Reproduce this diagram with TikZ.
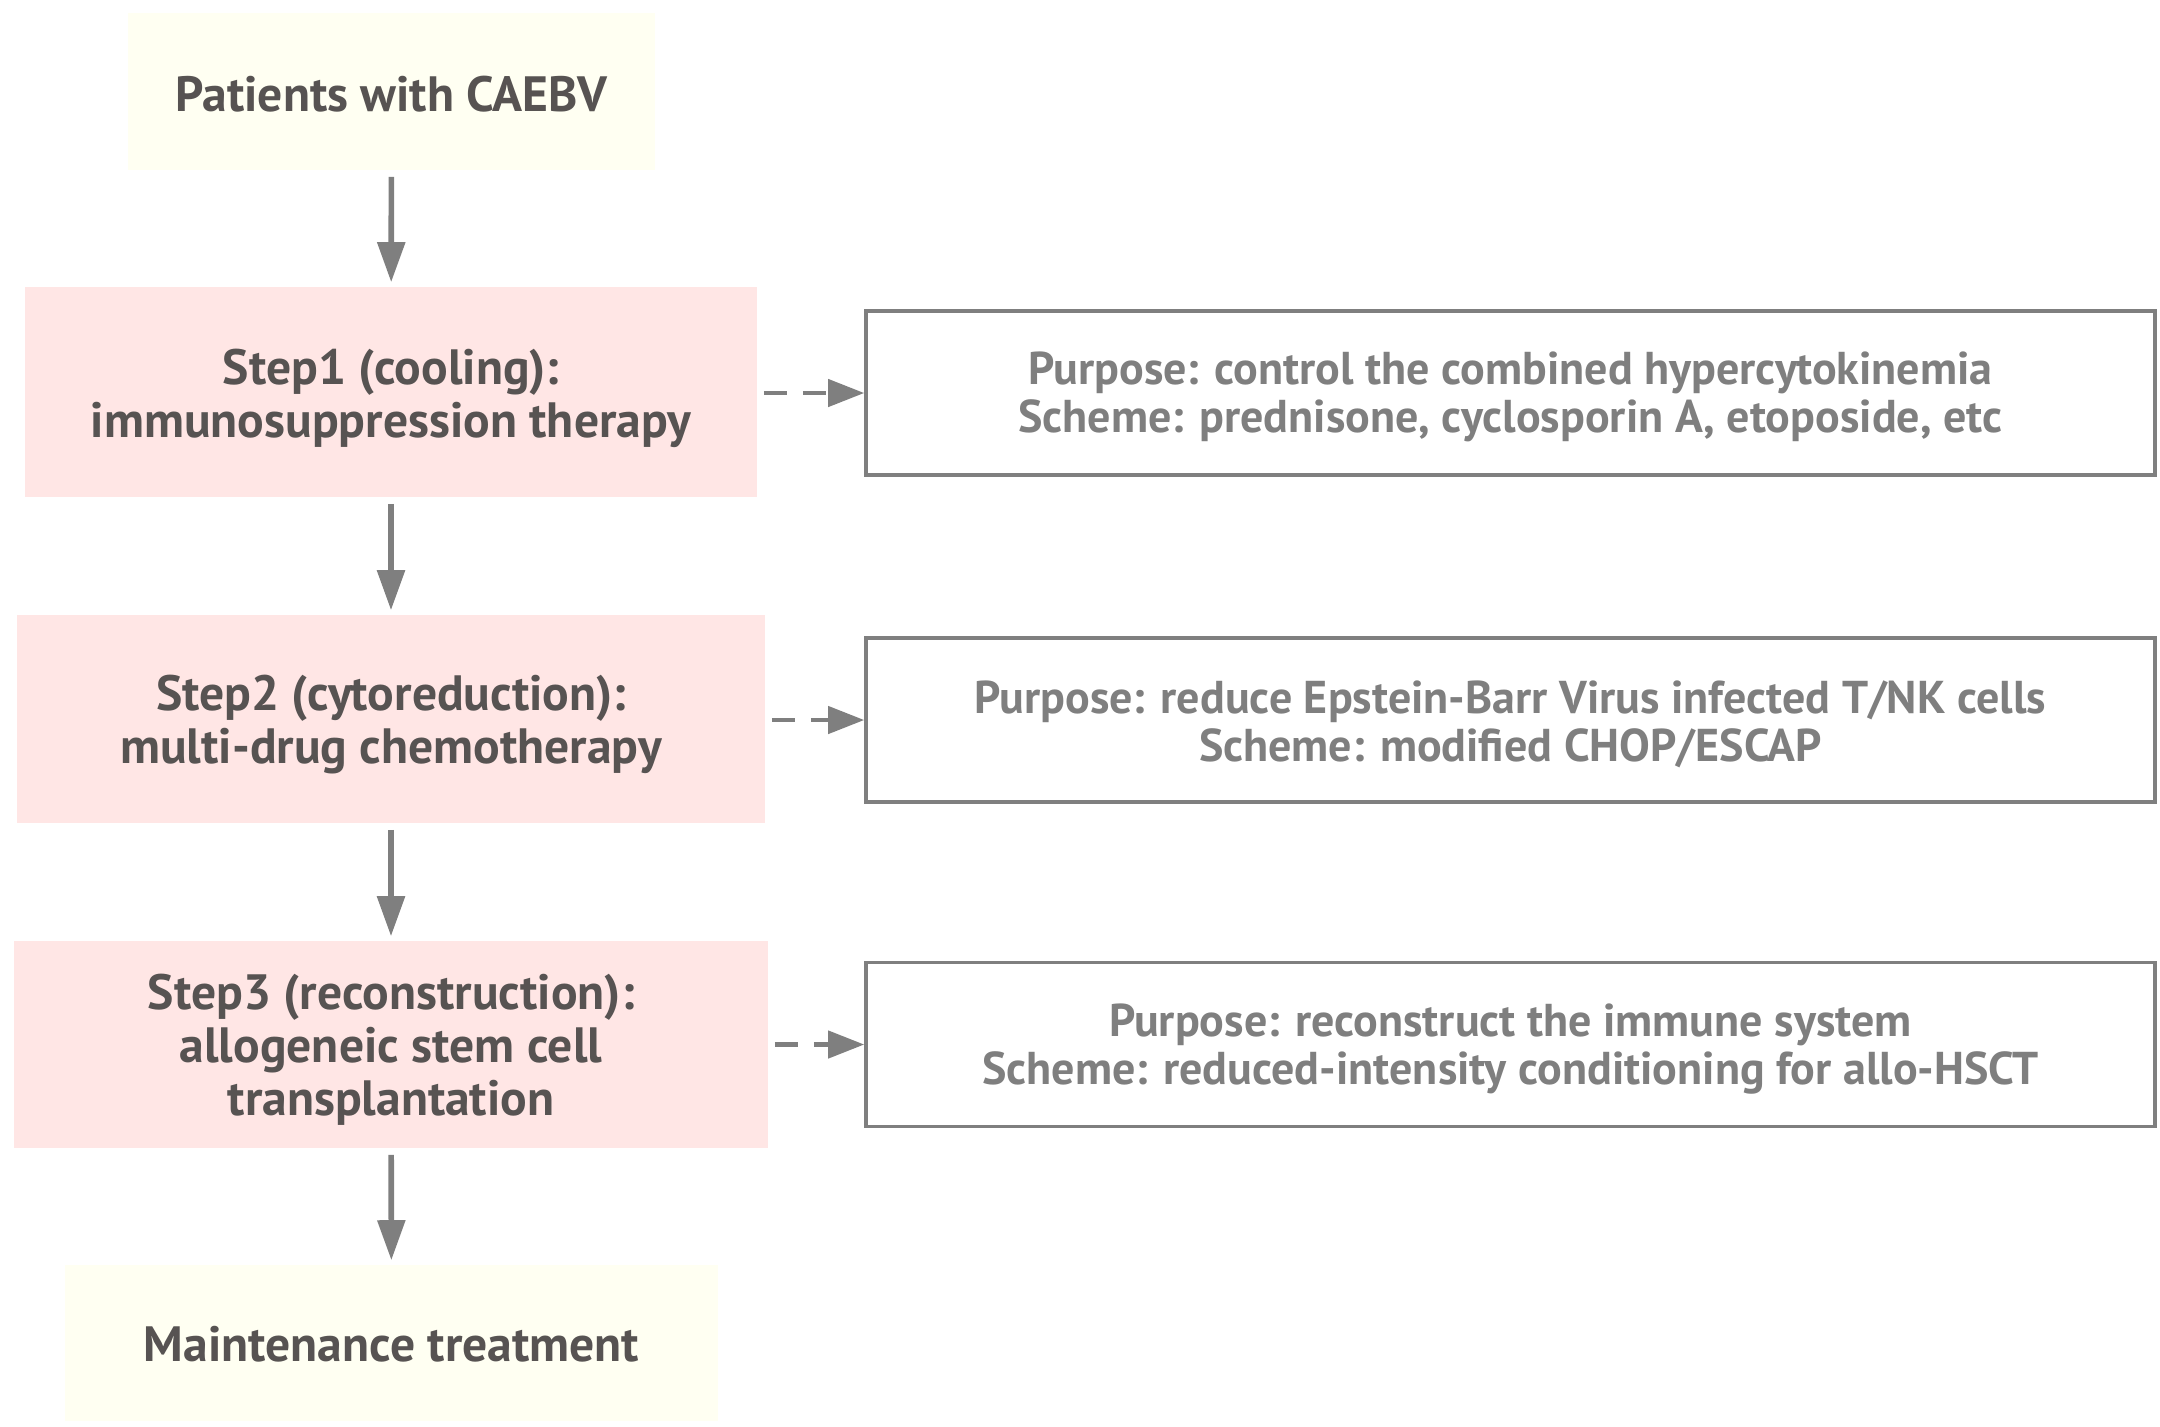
\documentclass[tikz,border=0pt]{standalone}
\usepackage{fontspec}
\setmainfont{PT Sans}
\usetikzlibrary{arrows.meta}
\definecolor{yfill}{HTML}{FFFFF2}
\definecolor{pfill}{HTML}{FFE6E5}
\definecolor{lgray}{HTML}{7F7F7F}
\definecolor{dtext}{HTML}{575352}
\tikzset{
  ltext/.style={align=center, text=dtext, inner sep=0pt,
    font=\bfseries\fontsize{12.4}{13.25}\selectfont},
  rtext/.style={align=center, text=lgray, inner sep=0pt, yshift=-1pt,
    font=\bfseries\fontsize{11.5}{12}\selectfont},
  startbox/.style={fill=yfill, draw=none, inner sep=0pt},
  stepbox/.style={fill=pfill, draw=none, inner sep=0pt},
  infobox/.style={draw=lgray, line width=0.9pt, fill=white, inner sep=0pt,
    minimum width=322.25pt, minimum height=41pt},
  flow/.style={draw=lgray, line width=1.4pt,
    -{Triangle[length=10pt,width=6.75pt]}, shorten <=1.5pt, shorten >=1pt},
  side/.style={draw=lgray, line width=1.1pt, dash pattern=on 5.75pt off 4pt,
    -{Triangle[length=9pt,width=6.75pt]}, shorten <=1.5pt}
}
\begin{document}
\begin{tikzpicture}[x=0.25pt, y=-0.25pt]
\useasboundingbox (0,0) rectangle (2160,1426);
\node[startbox, minimum width=131.75pt, minimum height=39.25pt,
  label={[ltext, yshift=-0.6pt]center:Patients with CAEBV}] (top) at (391.5,91.5) {};
\node[stepbox, minimum width=183pt, minimum height=52.5pt,
  label={[ltext, yshift=-1.5pt]center:Step1 (cooling):\\immunosuppression therapy}] (s1) at (391,392) {};
\node[stepbox, minimum width=187pt, minimum height=52pt,
  label={[ltext, yshift=-1.4pt]center:Step2 (cytoreduction):\\multi-drug chemotherapy}] (s2) at (391,719) {};
\node[stepbox, minimum width=188.5pt, minimum height=51.75pt,
  label={[ltext, yshift=-1.4pt]center:Step3 (reconstruction):\\allogeneic stem cell\\transplantation}] (s3) at (391,1044.5) {};
\node[startbox, minimum width=163.25pt, minimum height=39pt,
  label={[ltext, yshift=-0.3pt]center:Maintenance treatment}] (mt) at (391.5,1343) {};
\node[infobox, label={[rtext]center:Purpose: control the combined hypercytokinemia\\Scheme: prednisone, cyclosporin A, etoposide, etc}] (r1) at (1510.5,393) {};
\node[infobox, label={[rtext]center:Purpose: reduce Epstein-Barr Virus infected T/NK cells\\Scheme: modified CHOP/ESCAP}] (r2) at (1510.5,720) {};
\node[infobox, label={[rtext]center:Purpose: reconstruct the immune system\\Scheme: reduced-intensity conditioning for allo-HSCT}] (r3) at (1510.5,1044.5) {};
\draw[flow] (top) -- (s1);
\draw[flow] (s1) -- (s2);
\draw[flow] (s2) -- (s3);
\draw[flow] (s3) -- (mt);
\draw[side] (s1.east |- r1.west) -- (r1.west);
\draw[side] (s2.east |- r2.west) -- (r2.west);
\draw[side] (s3.east |- r3.west) -- (r3.west);
\end{tikzpicture}
\end{document}
